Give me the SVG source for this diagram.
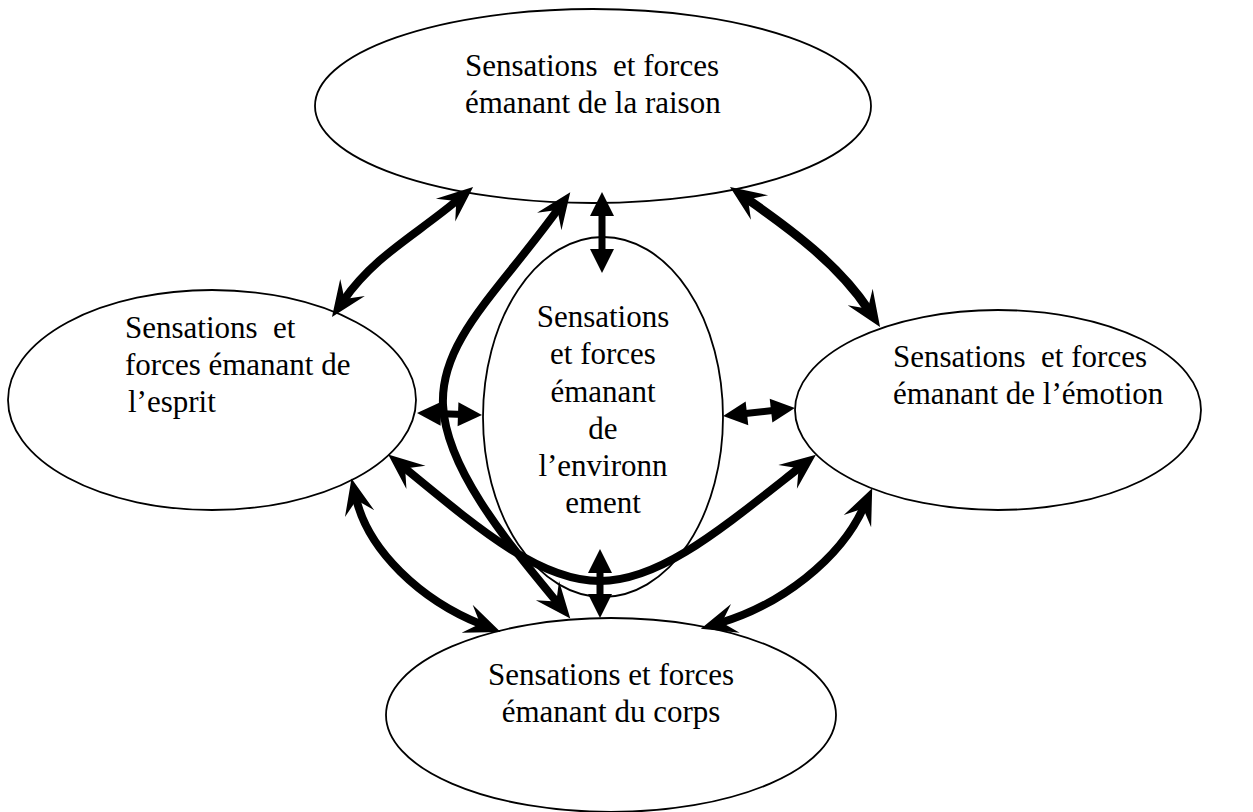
<svg xmlns="http://www.w3.org/2000/svg" width="1253" height="812" viewBox="0 0 1253 812">
<style>
.node ellipse{fill:#fff;stroke:#000;stroke-width:1.8}
.t{font-family:'Liberation Serif','DejaVu Serif','Times New Roman',serif;font-size:31px;fill:#000}
.c{stroke:#000;fill:none;stroke-width:8}
.s{stroke:#000;fill:none;stroke-width:7}
</style>
<defs>
<marker id="barb" markerUnits="userSpaceOnUse" viewBox="-36 -16 36 32" refX="-20" refY="0" markerWidth="36" markerHeight="32" orient="auto-start-reverse" overflow="visible">
<path d="M0,0 L-36,-15 L-22,0 L-36,15 Z" fill="#000"/>
</marker>
<marker id="tri" markerUnits="userSpaceOnUse" viewBox="-24 -12 24 24" refX="-18" refY="0" markerWidth="24" markerHeight="24" orient="auto-start-reverse" overflow="visible">
<path d="M0,0 L-24,-12 L-24,12 Z" fill="#000"/>
</marker>
</defs>
<rect width="1253" height="812" fill="#fff"/>
<g id="raison" class="node">
<ellipse cx="593" cy="106" rx="278" ry="97"/>
<text class="t" x="465" y="76" xml:space="preserve">Sensations  et forces</text>
<text class="t" x="465" y="113">émanant de la raison</text>
</g>
<g id="esprit" class="node">
<ellipse cx="212" cy="400" rx="204" ry="110"/>
<text class="t" x="125" y="338" xml:space="preserve">Sensations  et</text>
<text class="t" x="125" y="375">forces émanant de</text>
<text class="t" x="128" y="412">l’esprit</text>
</g>
<g id="emotion" class="node">
<ellipse cx="998" cy="410" rx="203" ry="100"/>
<text class="t" x="893" y="367" xml:space="preserve">Sensations  et forces</text>
<text class="t" x="893" y="404">émanant de l’émotion</text>
</g>
<g id="corps" class="node">
<ellipse cx="611" cy="715" rx="225" ry="97"/>
<text class="t" x="611" y="685" text-anchor="middle">Sensations et forces</text>
<text class="t" x="611" y="722" text-anchor="middle">émanant du corps</text>
</g>
<g id="environnement" class="node">
<ellipse cx="603" cy="417" rx="120" ry="180"/>
<text class="t" x="603" y="327" text-anchor="middle">Sensations</text>
<text class="t" x="603" y="364" text-anchor="middle">et forces</text>
<text class="t" x="603" y="402" text-anchor="middle">émanant</text>
<text class="t" x="603" y="439" text-anchor="middle">de</text>
<text class="t" x="603" y="476" text-anchor="middle">l’environn</text>
<text class="t" x="603" y="513" text-anchor="middle">ement</text>
</g>
<g id="connectors">
<path class="c" d="M343.4,300.6 C374.8,255.5 416,235 457.8,199.8" marker-start="url(#barb)" marker-end="url(#barb)"/>
<path class="c" style="stroke-width:9" d="M746.4,198.4 C791.5,229.8 838.8,264.8 869,310.4" marker-start="url(#barb)" marker-end="url(#barb)"/>
<path class="s" d="M602,210 L602,255" marker-start="url(#tri)" marker-end="url(#tri)"/>
<path class="s" d="M435,413.5 L464,414.5" marker-start="url(#tri)" marker-end="url(#tri)"/>
<path class="s" d="M741,414 L777,410" marker-start="url(#tri)" marker-end="url(#tri)"/>
<path class="s" d="M600,567 L600,600" marker-start="url(#tri)" marker-end="url(#tri)"/>
<path class="c" d="M558.6,208.4 C500,290 440,340 443,405 C446,470 510,545 557.6,603" marker-start="url(#barb)" marker-end="url(#barb)"/>
<path class="c" d="M403.6,467.2 C480,530 540,581 600,581 C660,581 720,530 800.2,467" marker-start="url(#barb)" marker-end="url(#barb)"/>
<path class="c" d="M356,498 C368,550 420,600 482,624.6" marker-start="url(#barb)" marker-end="url(#barb)"/>
<path class="c" d="M864,506.6 C840,560 780,605 720,623" marker-start="url(#barb)" marker-end="url(#barb)"/>
</g>
</svg>
